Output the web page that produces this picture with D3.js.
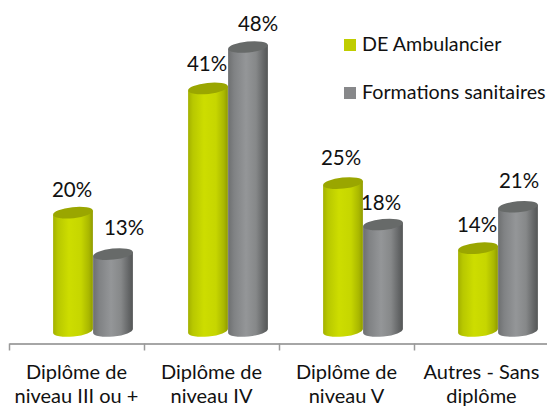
<!DOCTYPE html>
<html><head><meta charset="utf-8">
<script src="https://cdn.jsdelivr.net/npm/d3@7/dist/d3.min.js"></script>
<style>html,body{margin:0;padding:0;background:#fff}svg{display:block}text{font-family:Lato,"Open Sans",sans-serif;fill:#111}</style>
</head><body><script>
const categories = [["Diplôme de","niveau III ou +"],["Diplôme de","niveau IV"],["Diplôme de","niveau V"],["Autres - Sans","diplôme"]];
const seriesNames = ["DE Ambulancier","Formations sanitaires"];
const deAmbulancier = [20,41,25,14];
const formationsSanitaires = [13,48,18,21];
const labelNudgeX = [[-1,11],[-1,10],[-2,-2],[-1,1]];
const labelNudgeY = [[1,-2],[0,1],[-1,2],[1,-2]];

const W=547,H=406;
const svg=d3.select("body").append("svg").attr("width",W).attr("height",H);
const defs=svg.append("defs");
function grad(id,stops){const g=defs.append("linearGradient").attr("id",id).attr("x1","0%").attr("x2","100%").attr("y1","0%").attr("y2","0%");
 stops.forEach(s=>g.append("stop").attr("offset",s[0]).attr("stop-color",s[1]));}
grad("g0",[[0,"#a3b000"],[.12,"#b8c800"],[.4,"#cddd00"],[.7,"#c6d600"],[.9,"#a9b700"],[1,"#8f9a00"]]);
grad("g1",[[0,"#6d6f70"],[.15,"#808284"],[.45,"#949698"],[.7,"#868889"],[.9,"#636566"],[1,"#545656"]]);
const fills=["url(#g0)","url(#g1)"],tops=["#9aa600","#676a69"],legendCols=["#bfcd00","#87888a"];

const x=d3.scaleBand().domain(d3.range(categories.length)).range([9,549]).paddingInner(0).paddingOuter(0);
const inner=d3.scaleBand().domain([0,1]).range([44,124]).padding(0);
const y=d3.scaleLinear().domain([0,48]).range([331,47]);

const tilt=6,rx=20,ry=5.5,rad=tilt*Math.PI/180;
const dx=rx*Math.cos(rad),dy=rx*Math.sin(rad);
function cyl(s,c,v){
 const cx=x(c)+inner(s)+inner.bandwidth()/2,t=y(v),b=y(0);
 const g=svg.append("g");
 g.append("path").attr("fill",fills[s])
  .attr("d",`M${cx-dx},${t+dy}L${cx-dx},${b+dy}A${rx},${ry} ${-tilt} 0 0 ${cx+dx},${b-dy}L${cx+dx},${t-dy}Z`);
 g.append("ellipse").attr("cx",cx).attr("cy",t).attr("rx",rx).attr("ry",ry)
  .attr("transform",`rotate(${-tilt} ${cx} ${t})`).attr("fill",tops[s]);
}
[deAmbulancier,formationsSanitaires].forEach((vals,s)=>vals.forEach((v,c)=>cyl(s,c,v)));
[deAmbulancier,formationsSanitaires].forEach((vals,s)=>vals.forEach((v,c)=>{
 svg.append("text").attr("text-anchor","middle").attr("font-size",20.5)
  .attr("x",x(c)+inner(s)+inner.bandwidth()/2+labelNudgeX[c][s])
  .attr("y",y(v)-17+labelNudgeY[c][s]).text(v+"%");
}));

// axis
const edge=d3.scaleLinear().domain([0,categories.length]).range([9,549]);
const ax=svg.append("g").attr("transform","translate(0,343.5)")
 .call(d3.axisBottom(edge).ticks(categories.length).tickFormat("").tickSize(7).tickSizeOuter(0));
ax.selectAll("line").attr("stroke","#9a9a9a").attr("stroke-width",1.5);
ax.select(".domain").attr("stroke","#a6a6a6").attr("stroke-width",2);

categories.forEach((lines,c)=>lines.forEach((l,i)=>{
 svg.append("text").attr("text-anchor","middle").attr("font-size",20)
  .attr("x",x(c)+x.bandwidth()/2).attr("y",379+i*24).text(l);
}));

// legend
seriesNames.forEach((n,i)=>{
 const ly=[39,87][i];
 svg.append("rect").attr("x",344).attr("y",ly).attr("width",12).attr("height",12).attr("fill",legendCols[i]);
 svg.append("text").attr("x",362).attr("y",ly+12).attr("font-size",19.7).text(n);
});
</script></body></html>
